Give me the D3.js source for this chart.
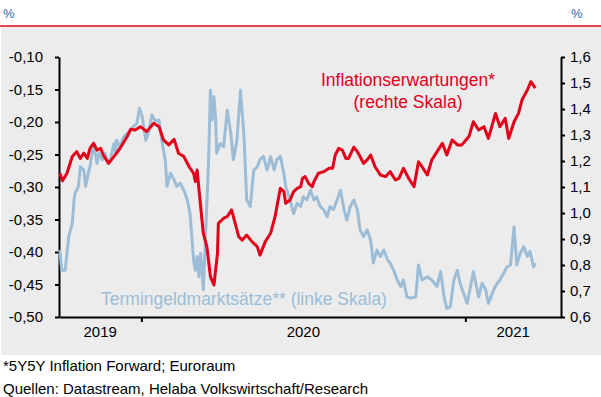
<!DOCTYPE html>
<html>
<head>
<meta charset="utf-8">
<script src="https://cdn.jsdelivr.net/npm/d3@7"></script>
<style>
  body { margin: 0; background: #fff; }
  text { font-family: "Liberation Sans", Arial, sans-serif; }
</style>
</head>
<body>
<script>
// 5Y5Y inflation forward, euro area (right scale)
var inflation = [
  ["2019-10-01",1.153],["2019-10-04",1.124],["2019-10-09",1.153],["2019-10-15",1.217],["2019-10-20",1.236],
  ["2019-10-24",1.210],["2019-10-28",1.230],["2019-11-01",1.210],["2019-11-04",1.249],["2019-11-08",1.268],
  ["2019-11-12",1.242],["2019-11-16",1.249],["2019-11-19",1.223],["2019-11-25",1.191],["2019-12-01",1.217],
  ["2019-12-08",1.249],["2019-12-16",1.294],["2019-12-20",1.322],["2019-12-25",1.319],["2019-12-31",1.332],
  ["2020-01-07",1.313],["2020-01-15",1.345],["2020-01-21",1.332],["2020-01-26",1.281],["2020-02-01",1.262],
  ["2020-02-07",1.283],["2020-02-12",1.230],["2020-02-18",1.217],["2020-02-24",1.178],["2020-02-29",1.153],
  ["2020-03-02",1.121],["2020-03-04",1.165],["2020-03-08",1.024],["2020-03-11",0.922],["2020-03-15",0.871],
  ["2020-03-19",0.755],["2020-03-23",0.723],["2020-03-27",0.845],["2020-03-28",0.960],["2020-04-03",0.980],
  ["2020-04-07",0.986],["2020-04-12",1.012],["2020-04-16",0.960],["2020-04-20",0.909],["2020-04-24",0.896],
  ["2020-04-29",0.915],["2020-05-05",0.890],["2020-05-11",0.870],["2020-05-14",0.838],["2020-05-20",0.890],
  ["2020-05-26",0.922],["2020-05-31",0.986],["2020-06-06",1.095],["2020-06-10",1.082],["2020-06-12",1.037],
  ["2020-06-17",1.050],["2020-06-21",1.082],["2020-06-25",1.095],["2020-06-29",1.101],["2020-07-01",1.133],
  ["2020-07-04",1.140],["2020-07-08",1.114],["2020-07-12",1.101],["2020-07-14",1.121],["2020-07-19",1.153],
  ["2020-07-25",1.159],["2020-07-31",1.172],["2020-08-04",1.172],["2020-08-07",1.223],["2020-08-11",1.249],
  ["2020-08-15",1.242],["2020-08-19",1.210],["2020-08-22",1.210],["2020-08-28",1.253],["2020-09-01",1.236],
  ["2020-09-04",1.217],["2020-09-08",1.191],["2020-09-12",1.204],["2020-09-16",1.223],["2020-09-21",1.178],
  ["2020-09-27",1.146],["2020-10-03",1.140],["2020-10-08",1.159],["2020-10-14",1.127],["2020-10-18",1.133],
  ["2020-10-23",1.172],["2020-10-29",1.133],["2020-11-04",1.101],["2020-11-09",1.197],["2020-11-13",1.178],
  ["2020-11-19",1.146],["2020-11-24",1.204],["2020-11-30",1.236],["2020-12-06",1.268],["2020-12-11",1.223],
  ["2020-12-17",1.281],["2020-12-23",1.262],["2020-12-28",1.262],["2021-01-05",1.294],["2021-01-10",1.351],
  ["2021-01-16",1.319],["2021-01-22",1.332],["2021-01-27",1.287],["2021-02-04",1.383],["2021-02-09",1.332],
  ["2021-02-15",1.364],["2021-02-19",1.287],["2021-02-25",1.351],["2021-03-02",1.383],["2021-03-06",1.435],
  ["2021-03-12",1.473],["2021-03-16",1.505],["2021-03-21",1.480]
];

// forward money market rates (left scale)
var rates = [
  ["2019-10-01",-0.397],["2019-10-03",-0.428],["2019-10-07",-0.428],["2019-10-11",-0.376],["2019-10-15",-0.356],
  ["2019-10-17",-0.320],["2019-10-18",-0.310],["2019-10-22",-0.299],["2019-10-24",-0.269],["2019-10-28",-0.274],
  ["2019-10-30",-0.299],["2019-11-02",-0.279],["2019-11-04",-0.269],["2019-11-08",-0.233],["2019-11-10",-0.248],
  ["2019-11-12",-0.264],["2019-11-14",-0.248],["2019-11-18",-0.258],["2019-11-21",-0.248],["2019-11-23",-0.258],
  ["2019-11-27",-0.258],["2019-12-01",-0.233],["2019-12-03",-0.248],["2019-12-04",-0.228],["2019-12-08",-0.238],
  ["2019-12-12",-0.223],["2019-12-16",-0.217],["2019-12-20",-0.212],["2019-12-23",-0.207],["2019-12-27",-0.202],
  ["2019-12-30",-0.179],["2020-01-02",-0.192],["2020-01-06",-0.228],["2020-01-09",-0.217],["2020-01-13",-0.189],
  ["2020-01-17",-0.199],["2020-01-21",-0.197],["2020-01-24",-0.228],["2020-01-28",-0.258],["2020-01-30",-0.299],
  ["2020-02-03",-0.279],["2020-02-07",-0.289],["2020-02-10",-0.299],["2020-02-14",-0.294],["2020-02-18",-0.305],
  ["2020-02-22",-0.320],["2020-02-25",-0.341],["2020-02-29",-0.412],["2020-03-02",-0.428],["2020-03-04",-0.407],
  ["2020-03-06",-0.438],["2020-03-08",-0.402],["2020-03-11",-0.458],["2020-03-13",-0.392],["2020-03-17",-0.258],
  ["2020-03-19",-0.151],["2020-03-21",-0.197],["2020-03-23",-0.161],["2020-03-25",-0.197],["2020-03-26",-0.248],
  ["2020-03-30",-0.233],["2020-04-03",-0.238],["2020-04-07",-0.182],["2020-04-11",-0.217],["2020-04-14",-0.258],
  ["2020-04-18",-0.228],["2020-04-22",-0.151],["2020-04-26",-0.223],["2020-04-29",-0.320],["2020-05-03",-0.330],
  ["2020-05-07",-0.274],["2020-05-11",-0.269],["2020-05-14",-0.258],["2020-05-18",-0.253],["2020-05-22",-0.274],
  ["2020-05-26",-0.253],["2020-05-30",-0.274],["2020-06-02",-0.258],["2020-06-06",-0.253],["2020-06-10",-0.279],
  ["2020-06-12",-0.299],["2020-06-17",-0.320],["2020-06-21",-0.341],["2020-06-25",-0.325],["2020-06-29",-0.330],
  ["2020-07-02",-0.315],["2020-07-06",-0.320],["2020-07-10",-0.305],["2020-07-14",-0.320],["2020-07-17",-0.315],
  ["2020-07-21",-0.330],["2020-07-25",-0.335],["2020-07-29",-0.346],["2020-08-01",-0.330],["2020-08-05",-0.335],
  ["2020-08-09",-0.320],["2020-08-13",-0.305],["2020-08-17",-0.335],["2020-08-20",-0.351],["2020-08-24",-0.330],
  ["2020-08-28",-0.320],["2020-09-01",-0.335],["2020-09-04",-0.366],["2020-09-08",-0.376],["2020-09-12",-0.366],
  ["2020-09-16",-0.382],["2020-09-19",-0.417],["2020-09-23",-0.397],["2020-09-27",-0.407],["2020-10-01",-0.397],
  ["2020-10-05",-0.412],["2020-10-08",-0.417],["2020-10-12",-0.428],["2020-10-16",-0.443],["2020-10-20",-0.453],
  ["2020-10-23",-0.443],["2020-10-27",-0.469],["2020-10-31",-0.471],["2020-11-06",-0.469],["2020-11-09",-0.420],
  ["2020-11-13",-0.443],["2020-11-19",-0.438],["2020-11-24",-0.443],["2020-11-30",-0.453],["2020-12-04",-0.430],
  ["2020-12-08",-0.469],["2020-12-11",-0.487],["2020-12-15",-0.484],["2020-12-19",-0.443],["2020-12-23",-0.428],
  ["2020-12-26",-0.448],["2020-12-30",-0.464],["2021-01-03",-0.479],["2021-01-09",-0.438],["2021-01-10",-0.430],
  ["2021-01-16",-0.469],["2021-01-20",-0.448],["2021-01-24",-0.458],["2021-01-27",-0.479],["2021-02-02",-0.458],
  ["2021-02-06",-0.448],["2021-02-09",-0.443],["2021-02-13",-0.433],["2021-02-17",-0.423],["2021-02-21",-0.420],
  ["2021-02-25",-0.361],["2021-02-28",-0.420],["2021-03-04",-0.402],["2021-03-08",-0.392],["2021-03-12",-0.407],
  ["2021-03-15",-0.399],["2021-03-19",-0.423],["2021-03-21",-0.417]
];

var leftTicks = [-0.50, -0.45, -0.40, -0.35, -0.30, -0.25, -0.20, -0.15, -0.10];
var rightTicks = [0.6, 0.7, 0.8, 0.9, 1.0, 1.1, 1.2, 1.3, 1.4, 1.5, 1.6];
var yearBreaks = ["2020-01-01", "2021-01-01"];
var yearLabels = ["2019", "2020", "2021"];
var dateRange = ["2019-09-30", "2021-04-19"];

var red = "#e2001a", blue = "#9dbdd6";
var parse = d3.timeParse("%Y-%m-%d");
var de = d3.formatLocale({decimal: ",", thousands: ".", grouping: [3], currency: ["", " €"], minus: "-"});

var svg = d3.select("body").append("svg")
    .attr("width", 601)
    .attr("height", 397);

// header
svg.append("text").attr("x", 3).attr("y", 18).attr("font-size", 13).attr("fill", "#1f64ad").text("%");
svg.append("text").attr("x", 571).attr("y", 18).attr("font-size", 13).attr("fill", "#1f64ad").text("%");
svg.append("line").attr("x1", 0).attr("x2", 601).attr("y1", 26).attr("y2", 26)
    .attr("stroke", red).attr("stroke-width", 1.5);

svg.append("rect").attr("x", 1).attr("y", 27).attr("width", 600).attr("height", 328).attr("fill", "#ececec");

var x = d3.scaleTime().domain(dateRange.map(parse)).range([59, 561]);
var yL = d3.scaleLinear().domain([-0.5, -0.1]).range([317, 57]);
var yR = d3.scaleLinear().domain([0.6, 1.6]).range([317, 57]);

// axes
var gL = svg.append("g").attr("transform", "translate(59,0)")
    .call(d3.axisLeft(yL).tickValues(leftTicks).tickFormat(de.format(".2f"))
        .tickSize(4).tickSizeOuter(0).tickPadding(12));
var gR = svg.append("g").attr("transform", "translate(561,0)")
    .call(d3.axisRight(yR).tickValues(rightTicks).tickFormat(de.format(".1f"))
        .tickSize(4).tickSizeOuter(0).tickPadding(5));
var gX = svg.append("g").attr("transform", "translate(0,317)")
    .call(d3.axisBottom(x).tickValues(yearBreaks.map(parse)).tickFormat("")
        .tickSize(5).tickSizeOuter(0));

[gL, gR, gX].forEach(function(g) {
    g.selectAll("path, line").attr("stroke", "#000").attr("stroke-width", 2);
    g.selectAll("text").attr("font-size", 15).attr("fill", "#000")
        .attr("font-family", "'Liberation Sans', Arial, sans-serif");
});

// year labels centred in their segments
var bounds = [x.domain()[0]].concat(yearBreaks.map(parse), [x.domain()[1]]);
svg.selectAll(".yr").data(yearLabels).enter().append("text")
    .attr("x", function(d, i) { return (x(bounds[i]) + x(bounds[i + 1])) / 2; })
    .attr("y", 337)
    .attr("text-anchor", "middle")
    .attr("font-size", 15)
    .text(function(d) { return d; });

// lines
svg.append("path").datum(rates)
    .attr("fill", "none").attr("stroke", blue).attr("stroke-width", 3).attr("stroke-linejoin", "round")
    .attr("d", d3.line().x(function(d) { return x(parse(d[0])); }).y(function(d) { return yL(d[1]); }));
svg.append("path").datum(inflation)
    .attr("fill", "none").attr("stroke", red).attr("stroke-width", 3).attr("stroke-linejoin", "round")
    .attr("d", d3.line().x(function(d) { return x(parse(d[0])); }).y(function(d) { return yR(d[1]); }));

// labels
svg.append("text").attr("x", 408).attr("y", 86).attr("text-anchor", "middle")
    .attr("font-size", 17.5).attr("fill", red).text("Inflationserwartungen*");
svg.append("text").attr("x", 408).attr("y", 108).attr("text-anchor", "middle")
    .attr("font-size", 17.5).attr("fill", red).text("(rechte Skala)");
svg.append("text").attr("x", 101).attr("y", 305)
    .attr("font-size", 17.5).attr("fill", blue).text("Termingeldmarktsätze** (linke Skala)");

// footnotes
svg.append("text").attr("x", 3).attr("y", 371).attr("font-size", 15).text("*5Y5Y Inflation Forward; Euroraum");
svg.append("text").attr("x", 3).attr("y", 394).attr("font-size", 15).text("Quellen: Datastream, Helaba Volkswirtschaft/Research");
</script>
</body>
</html>
